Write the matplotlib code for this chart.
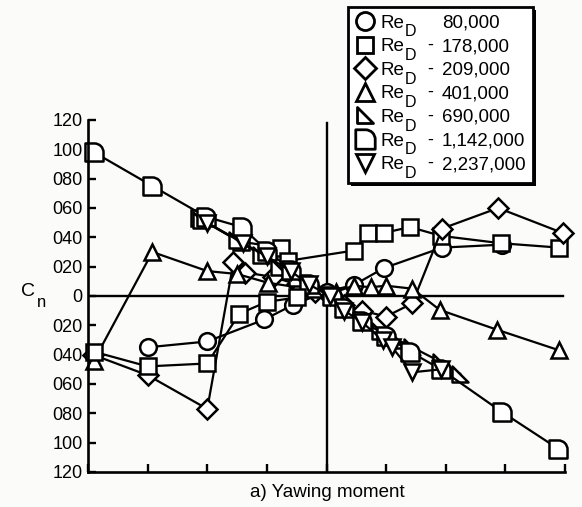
import matplotlib
matplotlib.use("Agg")
import matplotlib.pyplot as plt
from matplotlib.path import Path
from matplotlib.patches import Rectangle
from matplotlib.lines import Line2D

plt.rcParams['font.family'] = ['Liberation Sans', 'DejaVu Sans']

W, H = 582, 507

# yaw angle (deg) vs Cn (x 0.001)
re_values = ["80,000", "178,000", "209,000", "401,000", "690,000",
             "1,142,000", "2,237,000"]

circ_x = [-15, -10, -5.2, -2.8, 0, 2.3, 4.8, 9.7, 14.7]
circ_y = [-35, -31, -16, -6, 3, 7.5, 19, 33, 35]

sq_x = [-10.7, -7.2, -3.8, -3.2, 2.3, 3.5, 4.8, 7.0, 9.6, 14.6, 19.5]
sq_y = [53, 37, 33, 24, 31, 43, 43, 47, 41, 36, 33]
sq_low_x = [-19.5, -15, -10, -7.3, -5, -2.5]
sq_low_y = [-38, -48, -46, -12, -4, -1]

dia_x = [-19.6, -15, -10, -7.8, -6.8, -4.5, -2.5, -1, 1.5, 3, 5, 7.2, 9.7, 14.4, 19.8]
dia_y = [-40, -54, -77, 23, 16, 13, 8, 3, -6, -10, -14, -5, 46, 60, 43]

tri_x = [-19.5, -14.6, -10, -7.5, -4.9, -2.5, 0.8, 2.3, 3.7, 5, 7.2, 9.5, 14.3, 19.5]
tri_y = [-44, 30, 17, 15, 9, 6, 3, 7, 6, 7, 5, -9.5, -23, -37]

rt_x = [-10.5, -7.5, -5.5, -4, -2.5, -1, 0.5, 1.5, 3, 4.5, 6, 7.2, 9.6, 11.2]
rt_y = [52, 38, 28, 20, 12, 5, 0, -8, -16, -24, -30, -35, -45, -53]

dd_x = [-19.5, -14.6, -10.1, -7.1, -5, -3, -1.5, 0.5, 1.5, 3, 5, 7, 9.6, 14.7, 19.4]
dd_y = [98, 75, 54, 47, 31, 18, 8, 0, -8, -17, -27, -38, -50, -79, -104]

inv_x = [-10, -7, -5, -3, -1.5, 0.3, 1.5, 3, 4.7, 5.5, 7.2, 9.6]
inv_y = [50, 36, 27, 17, 8, 0, -10, -18, -30, -35, -52, -50]

yticks = list(range(-120, 121, 20))
ytick_labels = ["120", "100", "080", "060", "040", "020", "0",
                "020", "040", "060", "080", "100", "120"]
xticks = [-20, -15, -10, -5, 0, 5, 10, 15, 20]


def px(x, y):
    # figure pixel (from top-left) -> figure fraction
    return x / W, 1 - y / H


# custom marker shapes: right triangle and "D" with rounded corner
half_tri = Path([(-1, 1), (-1, -1), (1, -1), (-1, 1)],
                [Path.MOVETO, Path.LINETO, Path.LINETO, Path.CLOSEPOLY])
arc = Path.arc(0, 90)
d_verts = [(-1, -1), (1, -1)] + [tuple(v) for v in arc.vertices] + [(-1, 1), (-1, -1)]
d_codes = [Path.MOVETO, Path.LINETO, Path.LINETO] + list(arc.codes[1:]) + [Path.LINETO, Path.CLOSEPOLY]
d_shape = Path(d_verts, d_codes)

fig = plt.figure(figsize=(W / 100, H / 100), dpi=100)
fig.patch.set_facecolor('#fbfbf9')
ax = fig.add_axes([88 / W, 1 - 472 / H, 477 / W, 352 / H])
ax.set_facecolor('none')

style = dict(color='black', lw=1.6, markerfacecolor='white',
             markeredgecolor='black', markeredgewidth=1.8, clip_on=False)

markers = [('o', 12), ('s', 11), ('D', 10), ('^', 12), (half_tri, 11),
           (d_shape, 13), ('v', 12)]
series = [(circ_x, circ_y), (sq_x, sq_y), (dia_x, dia_y), (tri_x, tri_y),
          (rt_x, rt_y), (dd_x, dd_y), (inv_x, inv_y)]
for (xs, ys), (mk, ms) in zip(series, markers):
    ax.plot(xs, ys, marker=mk, markersize=ms, **style)
ax.plot(sq_low_x, sq_low_y, marker='s', markersize=11, **style)

# reference lines through the origin
ax.plot([-20, 19.8], [0, 0], color='black', lw=1.7, zorder=0)
ax.plot([0, 0], [-120, 118], color='black', lw=1.7, zorder=0)

ax.set_xlim(-20, 20)
ax.set_ylim(-120, 120)
for s in ['top', 'right']:
    ax.spines[s].set_visible(False)
for s in ['left', 'bottom']:
    ax.spines[s].set_linewidth(1.9)
ax.set_xticks(xticks)
ax.set_xticklabels([])
ax.set_yticks(yticks)
ax.set_yticklabels(ytick_labels)
ax.tick_params(direction='in', length=6, width=1.7, labelsize=13, pad=4)

# axis labels
fig.text(*px(21, 296), "C", fontsize=14, ha='left', va='baseline')
fig.text(*px(37, 307), "n", fontsize=12, ha='left', va='baseline')
fig.text(*px(327, 497), "a) Yawing moment", fontsize=13.5,
         ha='center', va='baseline')

# legend box drawn by hand (boxed, with heavy shadow edge)
x0, y0, x1, y1 = 348, 7, 533, 183
fig.add_artist(Rectangle(px(x0 + 3, y1 + 3), (x1 - x0) / W, (y1 - y0) / H,
                         transform=fig.transFigure, facecolor='black',
                         edgecolor='none', zorder=5))
fig.add_artist(Rectangle(px(x0, y1), (x1 - x0) / W, (y1 - y0) / H,
                         transform=fig.transFigure, facecolor='white',
                         edgecolor='black', lw=2.0, zorder=6))
base0, step = 27.5, 23.6
for i, ((mk, ms), val) in enumerate(zip(markers, re_values)):
    b = base0 + i * step
    fig.add_artist(Line2D([px(365, 0)[0]], [px(0, b - 6.5)[1]],
                          transform=fig.transFigure, ls='none', marker=mk,
                          markersize=ms + 1, markerfacecolor='white',
                          markeredgecolor='black', markeredgewidth=2.0,
                          zorder=7))
    fig.text(*px(381, b), "Re", fontsize=13.5, ha='left', va='baseline', zorder=7)
    fig.text(*px(405, b + 9), "D", fontsize=11.5, ha='left', va='baseline', zorder=7)
    if i > 0:
        fig.text(*px(430, b - 1), "-", fontsize=13, ha='center', va='baseline',
                 zorder=7)
    fig.text(*px(442, b), val, fontsize=13.5, ha='left', va='baseline', zorder=7)

fig.savefig('out.png', dpi=100, facecolor=fig.get_facecolor())
